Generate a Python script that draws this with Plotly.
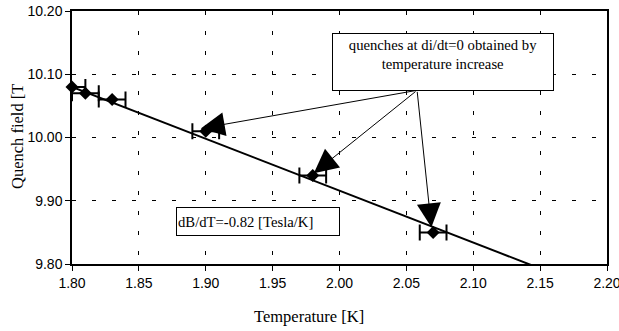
import plotly.graph_objects as go

# Measured data
temp = [1.80, 1.81, 1.83, 1.90, 1.98, 2.07]
field = [10.08, 10.07, 10.06, 10.01, 9.94, 9.85]
temp_err = [0.01, 0.01, 0.01, 0.01, 0.01, 0.01]

# Linear fit (dB/dT = -0.82 T/K)
fit_temp = [1.80, 2.145]
fit_field = [10.080, 9.797]

# Arrow source (box bottom) and targets
arrow_from = (2.058, 10.0746)
arrow_to_temp = [1.8963, 1.9808, 2.0687]
arrow_to_field = [10.0143, 9.9435, 9.858]

x_ticks = [1.80, 1.85, 1.90, 1.95, 2.00, 2.05, 2.10, 2.15, 2.20]
y_ticks = [9.80, 9.90, 10.00, 10.10, 10.20]

SERIF = "Liberation Serif, Times New Roman, serif"
SANS = "Liberation Sans, Arial, sans-serif"

fig = go.Figure()

fig.add_trace(go.Scatter(
    x=temp, y=field, mode="markers",
    marker=dict(size=1, color="rgba(0,0,0,0)"),
    error_x=dict(type="data", array=temp_err, color="black", thickness=2, width=8),
    cliponaxis=True, showlegend=False, hoverinfo="skip"))

fig.add_trace(go.Scatter(
    x=fit_temp, y=fit_field, mode="lines",
    line=dict(color="black", width=2), showlegend=False))

fig.add_trace(go.Scatter(
    x=temp, y=field, mode="markers",
    marker=dict(symbol="diamond", size=10, color="black"),
    cliponaxis=False, showlegend=False))

annotations = []
for tx, ty in zip(arrow_to_temp, arrow_to_field):
    annotations.append(dict(
        x=tx, y=ty, xref="x", yref="y",
        ax=arrow_from[0], ay=arrow_from[1], axref="x", ayref="y",
        text="", showarrow=True, arrowhead=2, arrowsize=4.8, arrowwidth=1,
        arrowcolor="black", standoff=0, startstandoff=0))

annotations.append(dict(
    x=2.0773, y=10.120, xref="x", yref="y", xanchor="center", yanchor="middle",
    text="quenches at di/dt=0 obtained by<br>temperature increase",
    showarrow=False, font=dict(family=SERIF, size=14.7, color="black"),
    bgcolor="white", bordercolor="black", borderwidth=1, borderpad=3,
    width=214, height=50, valign="top", align="center"))

annotations.append(dict(
    x=1.9391, y=9.8668, xref="x", yref="y", xanchor="center", yanchor="middle",
    text="dB/dT=-0.82 [Tesla/K]",
    showarrow=False, font=dict(family=SERIF, size=14.7, color="black"),
    bgcolor="white", bordercolor="black", borderwidth=1, borderpad=1,
    width=160, height=25, valign="middle", align="left"))

annotations.append(dict(
    x=(308.5 - 72) / 535, y=(264 - 316.7) / 253, xref="paper", yref="paper",
    xanchor="center", yanchor="middle", text="Temperature [K]", showarrow=False,
    font=dict(family=SERIF, size=16.5, color="black")))

annotations.append(dict(
    x=(17 - 72) / 535, y=(264 - 137) / 253, xref="paper", yref="paper",
    xanchor="center", yanchor="middle", text="Quench field [T", showarrow=False,
    textangle=-90, font=dict(family=SERIF, size=16.5, color="black")))

axis_common = dict(
    showgrid=True, gridcolor="black", gridwidth=1, griddash="4px,16px",
    showline=True, linecolor="black", linewidth=1.5, mirror=True,
    ticks="outside", ticklen=5, tickcolor="black", tickwidth=1,
    zeroline=False, automargin=False, ticklabeloverflow="allow",
    tickfont=dict(family=SANS, size=14, color="black"))

fig.update_layout(
    width=619, height=331,
    margin=dict(l=72, r=12, t=11, b=67),
    paper_bgcolor="white", plot_bgcolor="white",
    annotations=annotations,
    showlegend=False,
    xaxis=dict(range=[1.80, 2.20], tickvals=x_ticks,
               ticktext=[f"{v:.2f}" for v in x_ticks], **axis_common),
    yaxis=dict(range=[9.80, 10.20], tickvals=y_ticks,
               ticktext=[f"{v:.2f}" for v in y_ticks], **axis_common),
)

fig.write_html("out.html", config={"displayModeBar": False},
               post_script="document.body.style.margin='0';document.body.style.overflow='hidden';")
